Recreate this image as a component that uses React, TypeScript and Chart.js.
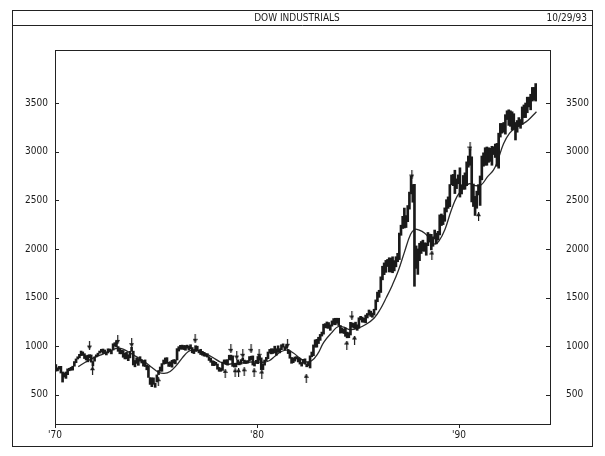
import React, { useEffect, useRef } from "react";
import { Chart, registerables } from "chart.js";

Chart.register(...registerables);

const titleText = "DOW INDUSTRIALS";
const dateText = "10/29/93";
const startYear = 1970;

// Monthly lows, Jan 1970 .. Oct 1993
const lowValues = [
  744, 746, 763, 724, 631, 683, 669, 707, 747, 753, 754, 794,
  830, 868, 880, 903, 905, 873, 858, 839, 880, 836, 797, 846,
  889, 901, 928, 940, 925, 926, 910, 930, 946, 921, 960, 1000,
  992, 947, 922, 921, 886, 869, 870, 851, 880, 948, 807, 788,
  823, 803, 846, 827, 795, 791, 757, 679, 607, 584, 608, 577,
  632, 708, 743, 742, 815, 819, 824, 792, 793, 784, 825, 818,
  858, 950, 968, 970, 965, 958, 979, 960, 974, 932, 924, 946,
  950, 931, 914, 907, 898, 896, 888, 853, 834, 801, 800, 806,
  763, 742, 742, 751, 822, 812, 805, 860, 857, 792, 785, 787,
  811, 808, 815, 850, 822, 822, 826, 846, 862, 806, 796, 823,
  820, 854, 759, 759, 805, 850, 872, 928, 921, 925, 932, 908,
  938, 931, 964, 990, 963, 976, 924, 876, 824, 830, 846, 868,
  838, 816, 795, 823, 815, 788, 797, 776, 891, 902, 990, 990,
  1027, 1060, 1104, 1124, 1190, 1186, 1183, 1163, 1206, 1223, 1220, 1236,
  1212, 1134, 1139, 1130, 1101, 1086, 1087, 1115, 1195, 1185, 1180, 1163,
  1184, 1270, 1247, 1246, 1240, 1290, 1320, 1306, 1297, 1320, 1373, 1457,
  1502, 1552, 1682, 1735, 1759, 1819, 1763, 1763, 1755, 1774, 1816, 1868,
  1890, 2140, 2210, 2215, 2220, 2280, 2409, 2566, 2480, 1616, 1800, 1738,
  1879, 1953, 1978, 1975, 1935, 2033, 2070, 1990, 2027, 2102, 2052, 2092,
  2144, 2240, 2250, 2284, 2380, 2417, 2434, 2660, 2650, 2569, 2620, 2670,
  2533, 2565, 2613, 2613, 2650, 2840, 2860, 2483, 2436, 2344, 2418, 2555,
  2447, 2710, 2850, 2860, 2860, 2890, 2900, 2860, 2970, 2940, 2850, 2830,
  3150, 3190, 3200, 3180, 3330, 3270, 3260, 3220, 3230, 3120, 3200, 3260,
  3240, 3280, 3350, 3350, 3400, 3460, 3430, 3520, 3530, 3520,
];

// Monthly highs, Jan 1970 .. Oct 1993
const highValues = [
  811, 778, 792, 793, 735, 725, 735, 767, 773, 783, 794, 842,
  869, 891, 916, 950, 941, 923, 903, 908, 913, 910, 843, 890,
  911, 928, 950, 968, 971, 961, 942, 973, 971, 956, 1025, 1036,
  1052, 996, 979, 959, 956, 927, 937, 912, 947, 988, 949, 853,
  880, 870, 892, 860, 851, 859, 806, 797, 677, 674, 674, 620,
  705, 750, 786, 821, 858, 879, 882, 835, 840, 855, 862, 860,
  975, 995, 1009, 1011, 1007, 1007, 1011, 1000, 1015, 986, 960, 1005,
  1000, 958, 968, 947, 937, 916, 923, 892, 877, 851, 845, 834,
  817, 782, 773, 837, 859, 859, 862, 907, 908, 901, 822, 822,
  859, 840, 862, 878, 857, 849, 852, 893, 897, 900, 831, 855,
  894, 903, 880, 817, 858, 885, 940, 967, 974, 972, 1000, 974,
  1004, 975, 1015, 1024, 995, 1011, 967, 953, 884, 878, 889, 893,
  882, 872, 833, 865, 870, 818, 836, 901, 940, 1013, 1065, 1071,
  1092, 1121, 1145, 1226, 1232, 1249, 1243, 1219, 1260, 1284, 1287, 1287,
  1287, 1213, 1185, 1175, 1187, 1145, 1139, 1245, 1240, 1234, 1247, 1220,
  1292, 1307, 1299, 1287, 1320, 1336, 1372, 1360, 1341, 1380, 1476, 1556,
  1575, 1713, 1822, 1856, 1882, 1892, 1909, 1905, 1919, 1880, 1920, 1955,
  2163, 2244, 2335, 2420, 2343, 2446, 2584, 2747, 2662, 2664, 2031, 2000,
  2058, 2076, 2090, 2063, 2060, 2169, 2152, 2150, 2124, 2194, 2162, 2181,
  2350, 2359, 2344, 2422, 2506, 2535, 2662, 2760, 2766, 2809, 2720, 2761,
  2834, 2660, 2755, 2782, 2895, 2955, 3024, 2947, 2667, 2540, 2594, 2661,
  2750, 2955, 2988, 3040, 3048, 3040, 3035, 3055, 3050, 3078, 3085, 3190,
  3290, 3290, 3300, 3380, 3420, 3430, 3420, 3410, 3390, 3300, 3320, 3350,
  3330, 3460, 3480, 3500, 3560, 3560, 3590, 3660, 3660, 3700,
];

// Moving average
const maYears = [
  1971.15, 1971.5, 1971.9, 1972.2, 1972.6, 1973.0, 1973.3, 1973.6, 1974.0, 1974.5,
  1974.8, 1975.1, 1975.4, 1975.7, 1976.0, 1976.3, 1976.6, 1976.9, 1977.2, 1977.5,
  1977.8, 1978.2, 1978.5, 1978.8, 1979.2, 1979.6, 1980.0, 1980.3, 1980.6, 1980.9,
  1981.2, 1981.5, 1981.8, 1982.1, 1982.4, 1982.7, 1983.0, 1983.3, 1983.7, 1984.0,
  1984.3, 1984.6, 1985.0, 1985.4, 1985.8, 1986.1, 1986.4, 1986.7, 1987.0, 1987.3,
  1987.6, 1987.8, 1988.0, 1988.3, 1988.6, 1988.8, 1989.0, 1989.3, 1989.6, 1989.9,
  1990.2, 1990.5, 1990.8, 1991.1, 1991.4, 1991.7, 1991.9, 1992.2, 1992.5, 1992.8,
  1993.1, 1993.4, 1993.83,
];
const maValues = [
  790, 835, 880, 905, 940, 975, 975, 945, 895, 830,
  780, 735, 720, 740, 800, 880, 945, 965, 950, 920,
  885, 835, 815, 820, 825, 835, 840, 835, 850, 900,
  945, 960, 930, 880, 840, 850, 920, 1040, 1140, 1200,
  1195, 1170, 1185, 1225, 1290, 1380, 1500, 1630, 1780, 1970,
  2150, 2200, 2195, 2160, 2090, 2050, 2080, 2200, 2390, 2540,
  2620, 2670, 2650, 2660, 2740, 2810, 2900, 3080, 3190, 3245,
  3280, 3320, 3410,
];

// Peak (down arrow) and trough (up arrow) markers
const peakYears = [1971.7, 1973.1, 1973.79, 1976.93, 1978.7, 1978.99, 1979.29, 1979.7, 1980.1, 1981.5, 1984.69, 1987.66, 1990.54];
const peakValues = [1012, 1070, 1036, 1081, 978, 909, 927, 978, 927, 1030, 1320, 2770, 3058];
const troughYears = [1971.85, 1975.11, 1978.42, 1978.91, 1979.08, 1979.36, 1979.85, 1980.23, 1982.43, 1984.44, 1984.82, 1988.65, 1990.96];
const troughValues = [748, 635, 721, 727, 727, 737, 727, 714, 670, 1012, 1063, 1937, 2331];

const yTickValues = [500, 1000, 1500, 2000, 2500, 3000, 3500];
const xTickYears = [1970, 1980, 1990];
const xTickLabels = ["'70", "'80", "'90"];

const FONT = "'Liberation Sans Narrow', 'DejaVu Sans Condensed', 'Liberation Sans', sans-serif";
const INK = "#1a1a1a";

function makeArrow(down: boolean): HTMLCanvasElement {
  const c = document.createElement("canvas");
  c.width = 5;
  c.height = 9;
  const g = c.getContext("2d")!;
  g.fillStyle = INK;
  g.fillRect(2, 0, 1.2, 9);
  g.beginPath();
  if (down) {
    g.moveTo(0, 5);
    g.lineTo(5, 5);
    g.lineTo(2.6, 9);
  } else {
    g.moveTo(0, 4);
    g.lineTo(5, 4);
    g.lineTo(2.6, 0);
  }
  g.closePath();
  g.fill();
  return c;
}

const framePlugin = {
  id: "frame",
  afterDraw(chart: any) {
    const ctx = chart.ctx as CanvasRenderingContext2D;
    const a = chart.chartArea;
    ctx.save();
    ctx.strokeStyle = "#222";
    ctx.lineWidth = 1;
    // outer frame
    ctx.strokeRect(12.5, 10.5, 580, 436);
    // title box bottom line
    ctx.beginPath();
    ctx.moveTo(12.5, 25.5);
    ctx.lineTo(592.5, 25.5);
    ctx.stroke();
    // plot frame
    ctx.strokeRect(Math.round(a.left) + 0.5, Math.round(a.top) + 0.5, Math.round(a.right - a.left), Math.round(a.bottom - a.top));
    // tick marks
    const ys = chart.scales.y;
    ctx.beginPath();
    for (const v of yTickValues) {
      const py = Math.round(ys.getPixelForValue(v)) + 0.5;
      ctx.moveTo(a.left, py);
      ctx.lineTo(a.left + 4, py);
      ctx.moveTo(a.right, py);
      ctx.lineTo(a.right - 4, py);
    }
    const xs = chart.scales.x;
    for (const t of xTickYears) {
      const px = Math.round(xs.getPixelForValue(t)) + 0.5;
      ctx.moveTo(px, a.bottom);
      ctx.lineTo(px, a.bottom + 4);
    }
    ctx.stroke();
    // titles
    ctx.fillStyle = INK;
    ctx.font = `10px ${FONT}`;
    ctx.textBaseline = "middle";
    ctx.textAlign = "center";
    ctx.fillText(titleText, 297, 18.5);
    ctx.textAlign = "right";
    ctx.fillText(dateText, 587, 18.5);
    ctx.restore();
  },
};

export default function App() {
  const ref = useRef<HTMLCanvasElement | null>(null);

  useEffect(() => {
    if (!ref.current) return;
    const bars = lowValues.map((lo, i) => ({
      x: startYear + (i + 0.5) / 12,
      y: [lo, highValues[i]],
    }));
    const ma = maYears.map((t, i) => ({ x: t, y: maValues[i] }));
    const peaks = peakYears.map((t, i) => ({ x: t, y: peakValues[i] }));
    const troughs = troughYears.map((t, i) => ({ x: t, y: troughValues[i] }));
    const downArrow = makeArrow(true);
    const upArrow = makeArrow(false);

    const yScale = (position: "left" | "right", width: number) => ({
      type: "linear" as const,
      position,
      min: 200,
      max: 4045,
      grid: { display: false, drawTicks: false },
      border: { display: false },
      afterBuildTicks: (s: any) => {
        s.ticks = yTickValues.map((v) => ({ value: v }));
      },
      afterFit: (s: any) => {
        s.width = width;
      },
      ticks: {
        color: INK,
        font: { family: FONT, size: 10 },
        padding: position === "left" ? 7 : 16,
        callback: (v: any) => String(v),
      },
    });

    const chart = new Chart(ref.current, {
      type: "bar",
      data: {
        datasets: [
          {
            type: "bar",
            data: bars as any,
            backgroundColor: INK,
            borderWidth: 0,
            barThickness: 2,
            grouped: false,
            yAxisID: "y",
          } as any,
          {
            type: "line",
            data: ma as any,
            borderColor: "#2a2a2a",
            borderWidth: 1.3,
            pointRadius: 0,
            tension: 0.4,
            fill: false,
            yAxisID: "y",
          } as any,
          {
            type: "scatter",
            data: peaks as any,
            pointStyle: downArrow,
            pointRadius: 4,
            yAxisID: "y",
          } as any,
          {
            type: "scatter",
            data: troughs as any,
            pointStyle: upArrow,
            pointRadius: 4,
            yAxisID: "y",
          } as any,
        ],
      },
      options: {
        responsive: false,
        animation: false,
        events: [],
        layout: { padding: { top: 50, left: 0, right: 0, bottom: 0 } },
        plugins: { legend: { display: false }, tooltip: { enabled: false } },
        scales: {
          x: {
            type: "linear",
            min: 1970,
            max: 1994.5,
            offset: false,
            grid: { display: false, drawTicks: false },
            border: { display: false },
            afterBuildTicks: (s: any) => {
              s.ticks = xTickYears.map((v) => ({ value: v }));
            },
            afterFit: (s: any) => {
              s.height = 32;
            },
            ticks: {
              color: INK,
              font: { family: FONT, size: 10 },
              padding: 5,
              maxRotation: 0,
              autoSkip: false,
              callback: (_v: any, i: number) => xTickLabels[i],
            },
          },
          y: yScale("left", 55),
          y2: yScale("right", 55),
        } as any,
      },
      plugins: [framePlugin],
    });
    return () => chart.destroy();
  }, []);

  return (
    <div style={{ position: "absolute", left: 0, top: 0, width: 605, height: 456, background: "#fff" }}>
      <canvas ref={ref} width={605} height={456} style={{ display: "block" }} />
    </div>
  );
}
